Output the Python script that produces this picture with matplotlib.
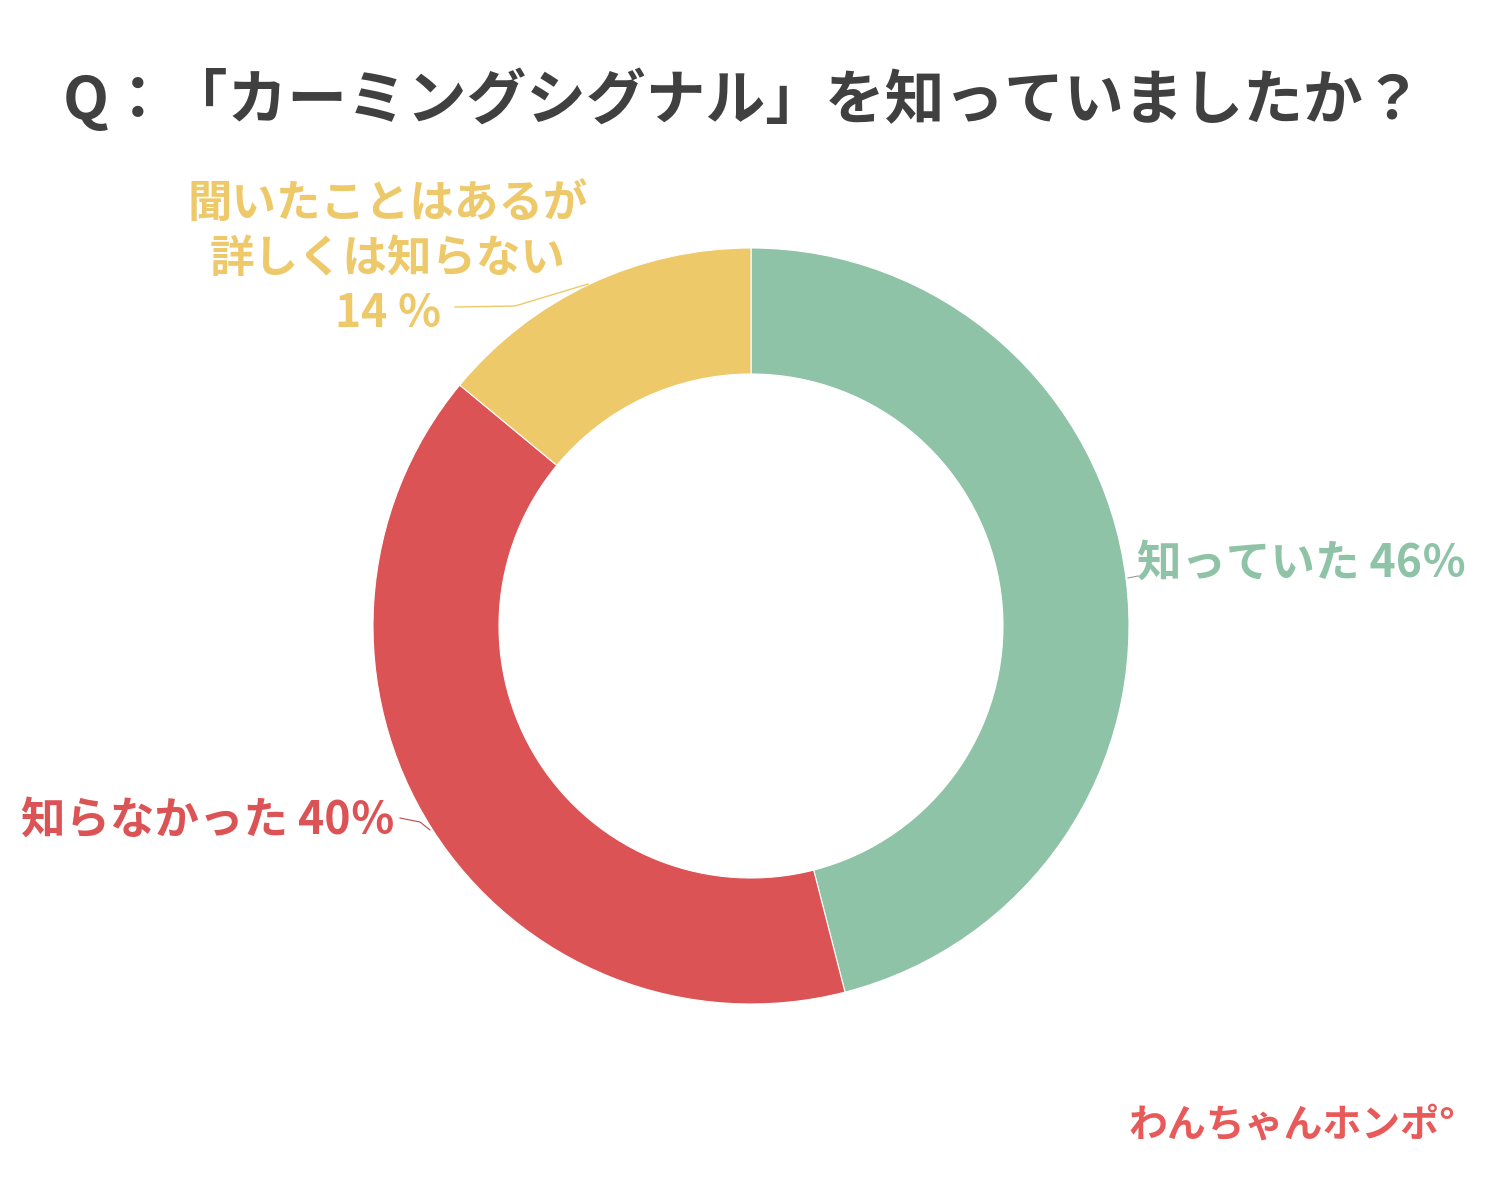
import matplotlib.pyplot as plt

plt.rcParams['font.family'] = ['Noto Sans CJK JP', 'DejaVu Sans']

# survey answers, clockwise from 12 o'clock
labels = ['知っていた', '知らなかった', '聞いたことはあるが\n詳しくは知らない']
shares = [46, 40, 14]
colors = ['#8fc3a7', '#dc5355', '#edc96a']

title = 'Q：「カーミングシグナル」を知っていましたか？'
logo = 'わんちゃんホンポ°'

fig = plt.figure(figsize=(15, 12), dpi=100)
ax = fig.add_axes([0, 0, 1, 1])

# donut: center and radii in pixel units of the 1500x1200 canvas
cx, cy, r = 751, 1200 - 626, 378
ax.pie(shares, colors=colors, startangle=90, counterclock=False,
       center=(cx, cy), radius=r, frame=True,
       wedgeprops=dict(width=126, edgecolor='white', linewidth=0.8))
ax.set_xlim(0, 1500)
ax.set_ylim(0, 1200)
ax.set_aspect('equal')
ax.axis('off')

fig.text(0.495, 1 - 100 / 1200, title, ha='center', va='center',
         fontsize=43, fontweight='bold', color='#404040')

# labels with short leader lines
ax.text(1137, 1200 - 565, f'{labels[0]} {shares[0]}％', ha='left', va='center',
        fontsize=32, fontweight='bold', color=colors[0])
ax.plot([1128, 1138], [1200 - 578, 1200 - 576], color='#9a9a9a', lw=0.8)

ax.text(395, 1200 - 822, f'{labels[1]} {shares[1]}％', ha='right', va='center',
        fontsize=32, fontweight='bold', color=colors[1])
ax.plot([400, 420, 430], [1200 - 818, 1200 - 822, 1200 - 830], color='#c04848', lw=0.8)

line1, line2 = labels[2].split('\n')
ax.text(388, 1200 - 205, line1, ha='center', va='center',
        fontsize=32, fontweight='bold', color=colors[2])
ax.text(388, 1200 - 259, line2, ha='center', va='center',
        fontsize=32, fontweight='bold', color=colors[2])
ax.text(388, 1200 - 314, f'{shares[2]} ％', ha='center', va='center',
        fontsize=32, fontweight='bold', color=colors[2])
ax.plot([455, 515, 588], [1200 - 307, 1200 - 306, 1200 - 284], color=colors[2], lw=1.0)

fig.text(1292 / 1500, 1 - 1125 / 1200, logo, ha='center', va='center',
         fontsize=28, fontweight='bold', color='#e85a5a')

fig.savefig('out.png', dpi=100, facecolor='white')
